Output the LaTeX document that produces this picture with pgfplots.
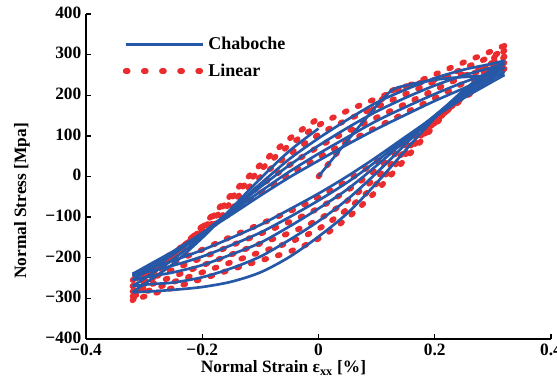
\documentclass[border=0pt]{standalone}
\usepackage{fontspec}
\setmainfont{Liberation Serif}
\usepackage{pgfplots}
\pgfplotsset{compat=1.18}
\usetikzlibrary{calc}
\definecolor{cblue}{RGB}{38,88,168}
\definecolor{cred}{RGB}{234,44,46}
\tikzset{
  bl/.style={cblue, line width=2pt, smooth, tension=0.5},
  rd/.style={cred, line width=4.2pt, line cap=round, dash pattern=on 1.6pt off 9pt, smooth, tension=0.5},
}
\begin{document}
\begin{tikzpicture}
\begin{axis}[name=ax,
  scale only axis, width=348.75pt, height=243.75pt,
  xmin=-0.4, xmax=0.4, ymin=-400, ymax=400,
  axis lines*=left,
  axis line style={-, line width=1.5pt},
  xtick pos=left, ytick pos=left,
  tick align=inside, major tick length=4pt,
  tick style={black, line width=1pt},
  xtick={-0.4,-0.2,0,0.2,0.4},
  xticklabels={−0.4,−0.2,0,0.2,0.4},
  ytick={-400,-300,-200,-100,0,100,200,300,400},
  yticklabels={−400,−300,−200,−100,0,100,200,300,400},
  ticklabel style={font=\bfseries\fontsize{13}{15}\selectfont},
  xticklabel style={yshift=-0.5pt},
  yticklabel style={yshift=1pt},
  label style={font=\bfseries\fontsize{13}{15}\selectfont},
  xlabel={Normal Strain ε\textsubscript{xx} [\%]},
  ylabel={Normal Stress [Mpa]},
  xlabel style={at={(axis description cs:0.4247,-0.1046)}, anchor=base},
  ylabel style={at={(axis description cs:-0.1376,0.4246)}, anchor=center, rotate=0},
  legend cell align=left,
  legend style={draw=none, fill=none, at={(axis description cs:0.07,0.945)}, anchor=north west,
    font=\bfseries\fontsize{13.5}{15}\selectfont, row sep=5pt},
  legend image code/.code={\draw[#1, smooth=false] (0pt,0pt) -- (58pt,0pt);},
]
\addlegendimage{cblue, line width=2pt}
\addlegendentry{Chaboche}
\addlegendimage{cred, line width=4.2pt, line cap=round, dash pattern=on 1.6pt off 12pt}
\addlegendentry{Linear}

% ---------- Linear (red) ----------
\addplot[rd, forget plot] coordinates {(0,0)(0.06,108)(0.12,205)(0.16,225)(0.2,238)(0.25,252)(0.32,265)};
\addplot[rd, forget plot] coordinates {(0.32,265)(0.29,234)(0.25,192)(0.2,140)(0.15,88)(0.1,37)(0.05,-10)(0,-51)(-0.05,-86)(-0.1,-117)(-0.15,-148)(-0.2,-180)(-0.25,-211)(-0.29,-236)(-0.32,-255)};
\addplot[rd, forget plot] coordinates {(-0.32,-255)(-0.29,-226)(-0.25,-187)(-0.2,-138)(-0.15,-89)(-0.1,-41)(-0.05,5)(0,47)(0.05,85)(0.1,121)(0.15,157)(0.2,193)(0.25,230)(0.29,258)(0.32,280)};
\addplot[rd, forget plot] coordinates {(0.32,280)(0.29,244)(0.25,197)(0.2,137)(0.15,77)(0.1,18)(0.05,-34)(0,-78)(-0.05,-112)(-0.1,-141)(-0.15,-170)(-0.2,-200)(-0.25,-229)(-0.29,-252)(-0.32,-270)};
\addplot[rd, forget plot] coordinates {(-0.32,-270)(-0.29,-236)(-0.25,-191)(-0.2,-135)(-0.15,-78)(-0.1,-23)(-0.05,28)(0,73)(0.05,111)(0.1,145)(0.15,179)(0.2,213)(0.25,247)(0.29,274)(0.32,295)};
\addplot[rd, forget plot] coordinates {(0.32,295)(0.29,254)(0.25,200)(0.2,133)(0.15,64)(0.1,-2)(0.05,-59)(0,-106)(-0.05,-139)(-0.1,-165)(-0.15,-192)(-0.2,-219)(-0.25,-246)(-0.29,-267)(-0.32,-283)};
\addplot[rd, forget plot] coordinates {(-0.32,-283)(-0.29,-244)(-0.25,-193)(-0.2,-129)(-0.15,-64)(-0.1,-1)(-0.05,55)(0,103)(0.05,140)(0.1,171)(0.15,203)(0.2,234)(0.25,266)(0.29,291)(0.32,310)};
\addplot[rd, forget plot] coordinates {(0.32,310)(0.29,265)(0.25,205)(0.2,131)(0.15,55)(0.1,-18)(0.05,-80)(0,-129)(-0.05,-162)(-0.1,-186)(-0.15,-211)(-0.2,-236)(-0.25,-260)(-0.29,-280)(-0.32,-295)};
\addplot[rd, forget plot] coordinates {(-0.32,-295)(-0.29,-252)(-0.25,-196)(-0.2,-125)(-0.15,-53)(-0.1,16)(-0.05,77)(0,126)(0.05,162)(0.1,192)(0.15,221)(0.2,251)(0.25,281)(0.29,304)(0.32,322)};
\addplot[rd, forget plot] coordinates {(0.32,322)(0.29,273)(0.25,208)(0.2,126)(0.15,44)(0.1,-35)(0.05,-102)(0,-153)(-0.05,-185)(-0.1,-207)(-0.15,-229)(-0.2,-252)(-0.25,-274)(-0.29,-291)(-0.32,-305)};
\addplot[rd, forget plot] coordinates {(-0.32,-305)(-0.29,-259)(-0.25,-198)(-0.2,-122)(-0.15,-45)(-0.1,29)(-0.05,93)(0,143)};

% ---------- Chaboche (blue) ----------
\addplot[bl, forget plot] coordinates {(0,0)(0.06,106)(0.12,205)(0.15,224)(0.2,238)(0.25,245)(0.32,250)};
\addplot[bl, forget plot] coordinates {(0.32,250)(0.29,226)(0.25,193)(0.2,147)(0.15,98)(0.1,48)(0.05,1)(0,-42)(-0.05,-81)(-0.1,-119)(-0.15,-151)(-0.2,-181)(-0.25,-207)(-0.29,-226)(-0.32,-240)};
\addplot[bl, forget plot] coordinates {(-0.32,-240)(-0.29,-216)(-0.25,-184)(-0.2,-140)(-0.15,-94)(-0.1,-47)(-0.05,-2)(0,39)(0.05,79)(0.1,117)(0.15,152)(0.2,186)(0.25,217)(0.29,240)(0.32,258)};
\addplot[bl, forget plot] coordinates {(0.32,258)(0.29,233)(0.25,199)(0.2,149)(0.15,94)(0.1,38)(0.05,-14)(0,-59)(-0.05,-100)(-0.1,-138)(-0.15,-169)(-0.2,-197)(-0.25,-219)(-0.29,-233)(-0.32,-245)};
\addplot[bl, forget plot] coordinates {(-0.32,-245)(-0.29,-220)(-0.25,-186)(-0.2,-139)(-0.15,-88)(-0.1,-37)(-0.05,12)(0,56)(0.05,97)(0.1,137)(0.15,171)(0.2,203)(0.25,232)(0.29,252)(0.32,268)};
\addplot[bl, forget plot] coordinates {(0.32,268)(0.29,241)(0.25,205)(0.2,150)(0.15,89)(0.1,27)(0.05,-31)(0,-79)(-0.05,-123)(-0.1,-163)(-0.15,-192)(-0.2,-218)(-0.25,-236)(-0.29,-246)(-0.32,-255)};
\addplot[bl, forget plot] coordinates {(-0.32,-255)(-0.29,-228)(-0.25,-192)(-0.2,-140)(-0.15,-83)(-0.1,-26)(-0.05,28)(0,76)(0.05,120)(0.1,160)(0.15,194)(0.2,224)(0.25,249)(0.29,265)(0.32,278)};
\addplot[bl, forget plot] coordinates {(0.32,278)(0.29,250)(0.25,210)(0.2,149)(0.15,80)(0.1,9)(0.05,-56)(0,-110)(-0.05,-156)(-0.1,-197)(-0.15,-226)(-0.2,-248)(-0.25,-261)(-0.29,-265)(-0.32,-270)};
\addplot[bl, forget plot] coordinates {(-0.32,-270)(-0.29,-242)(-0.25,-204)(-0.2,-146)(-0.15,-82)(-0.1,-18)(-0.05,43)(0,94)(0.05,140)(0.1,182)(0.15,214)(0.2,242)(0.25,263)(0.29,275)(0.32,285)};
\addplot[bl, forget plot] coordinates {(0.32,285)(0.29,255)(0.25,213)(0.2,144)(0.15,65)(0.1,-16)(0.05,-90)(0,-148)(-0.05,-198)(-0.1,-236)(-0.15,-259)(-0.2,-272)(-0.25,-279)(-0.29,-283)(-0.32,-285)};
\addplot[bl, forget plot] coordinates {(-0.32,-285)(-0.29,-255)(-0.25,-215)(-0.2,-151)(-0.15,-79)(-0.1,-5)(-0.05,63)(0,118)};
\end{axis}
\pgfresetboundingbox
\path ($(ax.south west)+(-64.5pt,-33.75pt)$) rectangle ($(ax.north east)+(4.5pt,10.5pt)$);
\end{tikzpicture}
\end{document}
